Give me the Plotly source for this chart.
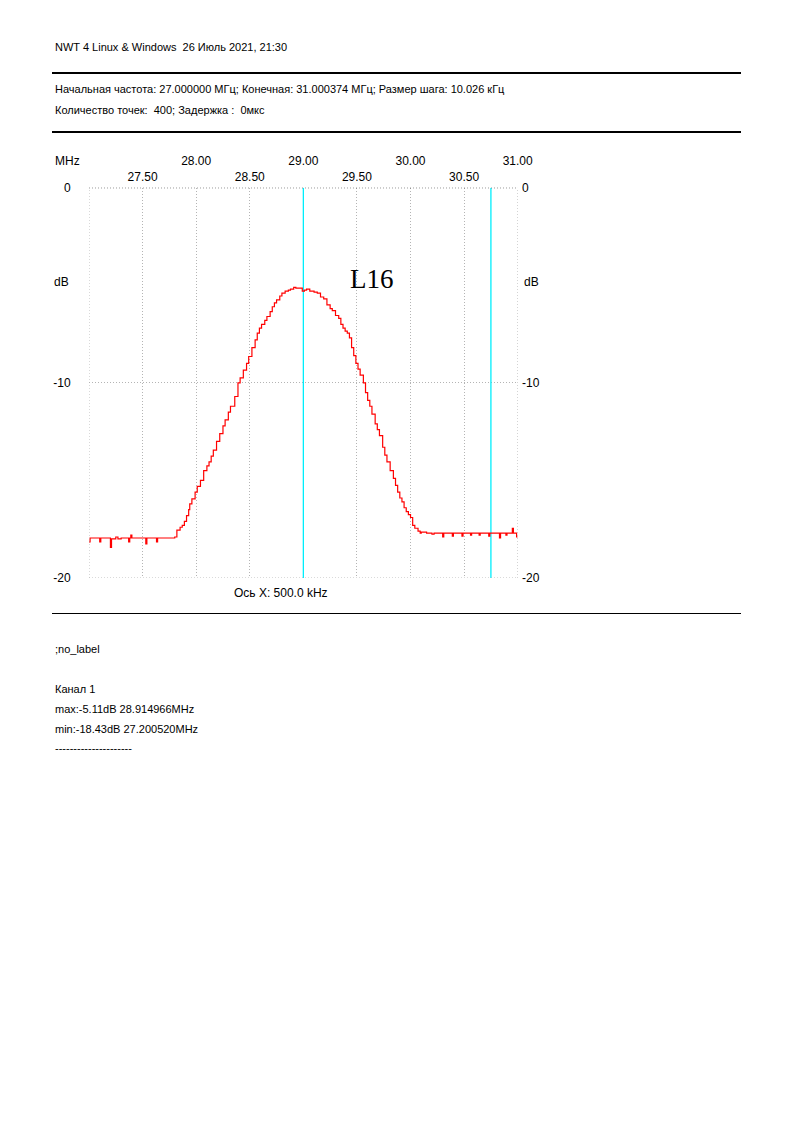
import plotly.graph_objects as go

W, H = 794, 1123

# ---------------- data ----------------
freq_mhz = [27.00, 27.01, 27.10, 27.11, 27.20, 27.21, 27.25, 27.27, 27.30, 27.37, 27.38, 27.39, 27.40,
            27.53, 27.54, 27.63, 27.64,
            27.80, 27.82, 27.85, 27.87, 27.89, 27.91, 27.93, 27.94, 27.96, 27.99, 28.01, 28.04, 28.07,
            28.10, 28.12, 28.14, 28.16, 28.19, 28.22, 28.25, 28.27, 28.30, 28.32, 28.36, 28.39, 28.41,
            28.44, 28.47, 28.49, 28.52, 28.55, 28.57, 28.59, 28.61, 28.64, 28.66, 28.69, 28.71, 28.73,
            28.75, 28.78, 28.80, 28.83, 28.86, 28.88, 28.91, 28.93, 28.96, 28.99, 29.01, 29.03, 29.06,
            29.10, 29.13, 29.16, 29.19, 29.22, 29.25, 29.27, 29.30, 29.33, 29.35, 29.37, 29.39, 29.41,
            29.43, 29.45, 29.47, 29.49, 29.51, 29.53, 29.56, 29.58, 29.60, 29.62, 29.64, 29.67, 29.69,
            29.71, 29.74, 29.76, 29.78, 29.81, 29.84, 29.86, 29.88, 29.90, 29.92, 29.94, 29.96, 29.98,
            30.00, 30.02, 30.04, 30.07, 30.09,
            30.10, 30.15, 30.20, 30.22, 30.30, 30.31, 30.39, 30.40, 30.48, 30.49, 30.56, 30.57, 30.64,
            30.65, 30.73, 30.74, 30.83, 30.84, 30.89, 30.90, 30.95, 30.96, 30.99, 31.00]
level_db = [-18.15, -17.95, -18.15, -17.95, -18.43, -18.0, -17.9, -18.0, -17.95, -18.15, -17.95, -17.8, -17.95,
            -18.25, -17.95, -18.15, -17.95,
            -17.9, -17.55, -17.4, -17.3, -17.1, -16.8, -16.5, -16.2, -15.95, -15.6, -15.3, -15.0, -14.5,
            -14.25, -14.05, -13.75, -13.45, -13.0, -12.6, -12.2, -11.9, -11.5, -11.2, -10.7, -10.0, -9.75,
            -9.35, -9.0, -8.65, -8.2, -7.8, -7.45, -7.2, -7.0, -6.8, -6.6, -6.35, -6.1, -5.9,
            -5.75, -5.55, -5.4, -5.3, -5.25, -5.2, -5.11, -5.15, -5.15, -5.3, -5.25, -5.2, -5.3,
            -5.35, -5.4, -5.6, -5.7, -6.0, -6.2, -6.3, -6.55, -6.7, -7.0, -7.2, -7.35, -7.45,
            -7.7, -8.2, -8.6, -9.0, -9.3, -9.6, -10.0, -10.5, -10.9, -11.2, -11.6, -12.1, -12.4,
            -12.7, -13.3, -13.7, -14.05, -14.5, -14.9, -15.25, -15.6, -15.9, -16.1, -16.4, -16.6, -16.75,
            -16.9, -17.3, -17.45, -17.6, -17.7,
            -17.65, -17.7, -17.75, -17.7, -17.9, -17.7, -17.85, -17.7, -17.85, -17.7, -17.8, -17.7, -17.8,
            -17.7, -17.85, -17.7, -17.95, -17.7, -17.8, -17.7, -17.45, -17.7, -17.9, -17.9]

cursor_mhz = [29.00, 30.75]

x_major_ticks = [28.0, 29.0, 30.0, 31.0]
x_major_text = ["28.00", "29.00", "30.00", "31.00"]
x_minor_ticks = [27.5, 28.5, 29.5, 30.5]
x_minor_text = ["27.50", "28.50", "29.50", "30.50"]
y_ticks = [0, -10, -20]
y_text = ["0", "-10", "-20"]

header_line = "NWT 4 Linux & Windows  26 Июль 2021, 21:30"
info_line1 = "Начальная частота: 27.000000 МГц; Конечная: 31.000374 МГц; Размер шага: 10.026 кГц"
info_line2 = "Количество точек:  400; Задержка :  0мкс"
footer_lines = [";no_label", "Канал 1", "max:-5.11dB 28.914966MHz",
                "min:-18.43dB 27.200520MHz", "---------------------"]

# ---------------- geometry helpers ----------------
def px(x):
    return x / W

def py(y):
    return 1 - y / H

PL, PR, PT, PB = 89, 517.7, 187.7, 578

AXFONT = dict(family="Liberation Sans, Arial, sans-serif", size=12, color="#000000")
TXTFONT = dict(family="Liberation Sans, Tahoma, sans-serif", size=11, color="#000000")
GRID = "#b4b4b4"
DOT = "1px,2px"

fig = go.Figure()

# cursors
for c in cursor_mhz:
    fig.add_trace(go.Scatter(x=[c, c], y=[0, -20], mode="lines",
                             line=dict(color="#00eefc", width=1.3), hoverinfo="skip",
                             showlegend=False))

# response curve
fig.add_trace(go.Scatter(x=freq_mhz, y=level_db, mode="lines", line_shape="hv",
                         line=dict(color="#ff0000", width=1.2), showlegend=False))

grid = dict(showgrid=True, gridcolor=GRID, griddash=DOT, gridwidth=1)
noauto = dict(automargin=False)

fig.update_layout(
    autosize=False,
    width=W, height=H, margin=dict(l=0, r=0, t=0, b=0, pad=0, autoexpand=False),
    paper_bgcolor="white", plot_bgcolor="white", showlegend=False,
    xaxis=dict(domain=[px(PL), px(PR)], range=[27, 31], tick0=27, dtick=0.5,
               showticklabels=False, ticks="", zeroline=False, showline=False, **grid, **noauto),
    xaxis2=dict(domain=[px(PL), px(PR)], range=[27, 31], overlaying="x", side="top", anchor="y",
                tickvals=x_major_ticks, ticktext=x_major_text, ticks="outside", ticklen=17,
                tickcolor="rgba(0,0,0,0)", showgrid=False, zeroline=False, showline=False,
                tickfont=AXFONT, **noauto),
    xaxis3=dict(domain=[px(PL), px(PR)], range=[27, 31], overlaying="x", side="top", anchor="y",
                tickvals=x_minor_ticks, ticktext=x_minor_text, ticks="outside", ticklen=1,
                tickcolor="rgba(0,0,0,0)", showgrid=False, zeroline=False, showline=False,
                tickfont=AXFONT, **noauto),
    yaxis=dict(domain=[py(PB), py(PT)], range=[-20, 0], tickvals=y_ticks, ticktext=y_text,
               ticks="outside", ticklen=15, tickcolor="rgba(0,0,0,0)", zeroline=False,
               showline=False, tickfont=AXFONT, **grid, **noauto),
    yaxis2=dict(domain=[py(PB), py(PT)], range=[-20, 0], overlaying="y", side="right", anchor="x",
                tickvals=y_ticks, ticktext=y_text, ticks="outside", ticklen=1,
                tickcolor="rgba(0,0,0,0)", showgrid=False, zeroline=False, showline=False,
                tickfont=AXFONT, **noauto),
)
# invisible helper traces so the overlay axes render
fig.add_trace(go.Scatter(x=[27], y=[-20], xaxis="x2", yaxis="y", mode="markers",
                         marker=dict(opacity=0), hoverinfo="skip", showlegend=False))
fig.add_trace(go.Scatter(x=[27], y=[-20], xaxis="x3", yaxis="y2", mode="markers",
                         marker=dict(opacity=0), hoverinfo="skip", showlegend=False))

shapes = [
    dict(type="line", xref="x", yref="y", x0=27, x1=31, y0=0, y1=0,
         line=dict(color="#000000", width=1, dash=DOT)),
    dict(type="line", xref="x", yref="y", x0=27, x1=31, y0=-20, y1=-20,
         line=dict(color=GRID, width=1, dash=DOT)),
    dict(type="line", xref="x", yref="y", x0=27, x1=27, y0=-20, y1=0,
         line=dict(color=GRID, width=1, dash=DOT)),
    dict(type="line", xref="x", yref="y", x0=31, x1=31, y0=-20, y1=0,
         line=dict(color=GRID, width=1, dash=DOT)),
    dict(type="line", xref="paper", yref="paper", x0=px(52), x1=px(741), y0=py(73), y1=py(73),
         line=dict(color="#000000", width=2)),
    dict(type="line", xref="paper", yref="paper", x0=px(52), x1=px(741), y0=py(132), y1=py(132),
         line=dict(color="#000000", width=2)),
    dict(type="line", xref="paper", yref="paper", x0=px(52), x1=px(741), y0=py(613.5), y1=py(613.5),
         line=dict(color="#000000", width=1)),
]
fig.update_layout(shapes=shapes)

ann = []
def text(x, y, s, font, xanchor="left"):
    ann.append(dict(x=px(x), y=py(y), xref="paper", yref="paper", text=s, showarrow=False,
                    xanchor=xanchor, yanchor="middle", font=font))

text(53, 47, header_line, TXTFONT)
text(53, 89, info_line1, TXTFONT)
text(53, 110, info_line2, TXTFONT)
text(67, 161, "MHz", AXFONT, "center")
text(61, 282, "dB", AXFONT, "center")
text(531, 282, "dB", AXFONT, "center")
text(281, 593, "Ось X: 500.0 kHz", AXFONT, "center")
text(372, 279, "L16", dict(family="Liberation Serif, Times New Roman, serif", size=27, color="#000000"),
     "center")
for yy, s in zip([649, 689, 709, 729, 748], footer_lines):
    text(53, yy, s, TXTFONT)
fig.update_layout(annotations=ann)

fig.write_html("out.html", config={"responsive": False})
